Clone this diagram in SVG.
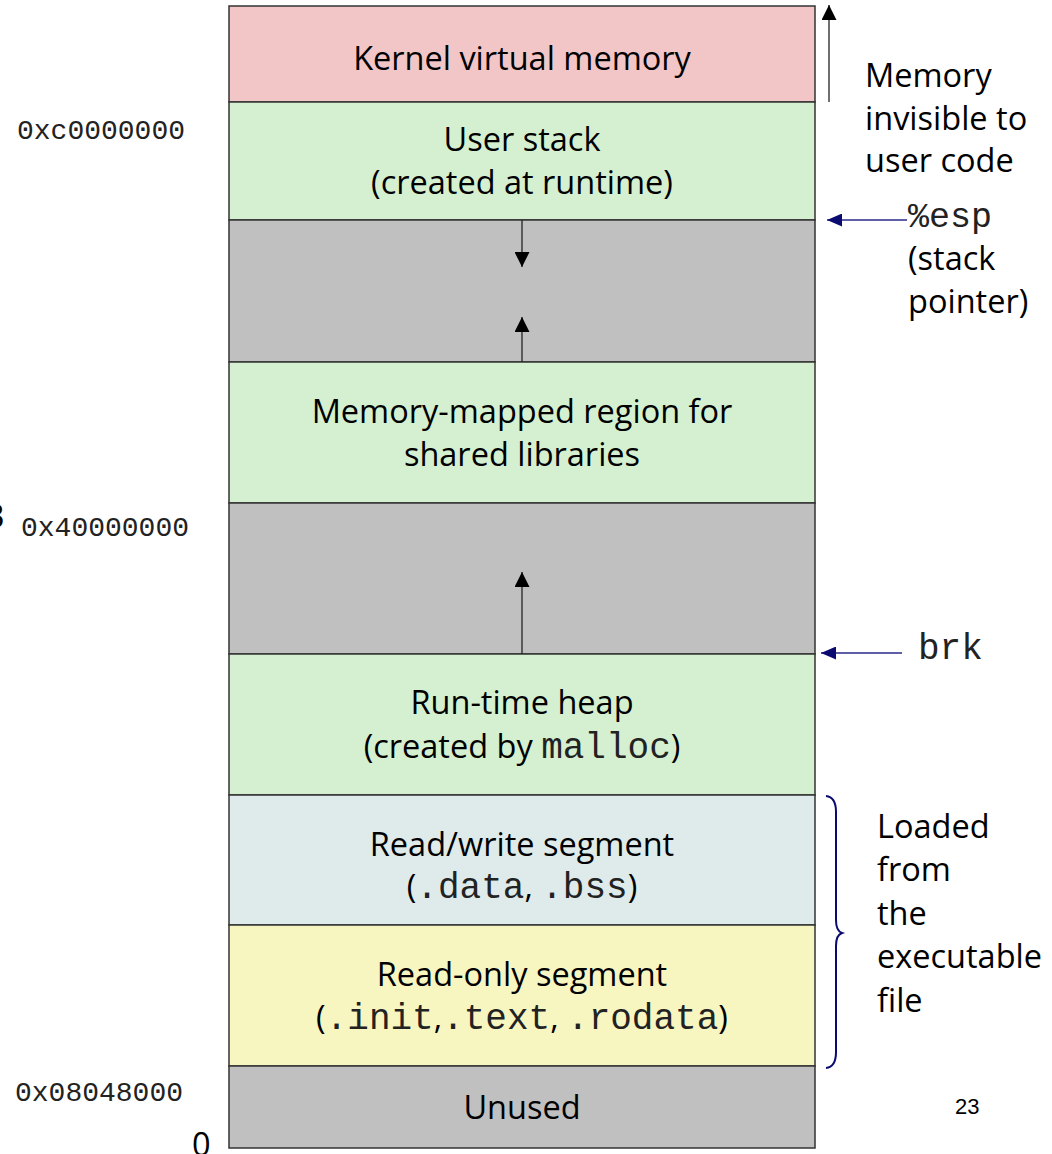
<svg xmlns="http://www.w3.org/2000/svg" width="1052" height="1154" viewBox="0 0 1052 1154">
<style>
.seg{stroke:#333;stroke-width:1.5}
.t{font-family:"Open Sans","Noto Sans",sans-serif;font-size:32.5px;fill:#000}
.c{text-anchor:middle}
.m{font-family:"Liberation Mono","Courier New",monospace;fill:#222}
.cm{font-size:36px}
.addr{font-family:"Liberation Mono","Courier New",monospace;font-size:28px;fill:#222}
.ln{stroke:#222;stroke-width:1.3;fill:none}
.nv{stroke:#2a2a8a;stroke-width:1.3;fill:none}
</style>
<defs>
<marker id="ah" viewBox="0 0 10 10" refX="10" refY="5" markerWidth="15" markerHeight="15" markerUnits="userSpaceOnUse" orient="auto"><path d="M0,0 L10,5 L0,10 z" fill="#000"/></marker>
<marker id="an" viewBox="0 0 10 10" refX="10" refY="5" markerWidth="15" markerHeight="13" markerUnits="userSpaceOnUse" orient="auto" preserveAspectRatio="none"><path d="M0,0 L10,5 L0,10 z" fill="#0a0a70"/></marker>
</defs>
<rect width="1052" height="1154" fill="#fff"/>
<g id="kernel"><rect class="seg" x="229" y="6" width="586" height="96" fill="#F2C6C7"/><text class="t c" x="522" y="70">Kernel virtual memory</text></g>
<g id="user-stack"><rect class="seg" x="229" y="102" width="586" height="118" fill="#D5F0D0"/><text class="t c" x="522" y="151">User stack</text><text class="t c" x="522" y="194">(created at runtime)</text></g>
<g id="gap1"><rect class="seg" x="229" y="220" width="586" height="142" fill="#C0C0C0"/></g>
<g id="mmap"><rect class="seg" x="229" y="362" width="586" height="141" fill="#D5F0D0"/><text class="t c" x="522" y="423">Memory-mapped region for</text><text class="t c" x="522" y="466">shared libraries</text></g>
<g id="gap2"><rect class="seg" x="229" y="503" width="586" height="151" fill="#C0C0C0"/></g>
<g id="heap"><rect class="seg" x="229" y="654" width="586" height="141" fill="#D5F0D0"/><text class="t c" x="522" y="714">Run-time heap</text><text class="t c" x="522" y="758">(created by <tspan class="m cm">malloc</tspan>)</text></g>
<g id="rw"><rect class="seg" x="229" y="795" width="586" height="130" fill="#DFEBEB"/><text class="t c" x="522" y="856">Read/write segment</text><text class="t c" x="522" y="898">(<tspan class="m cm">.data</tspan>, <tspan class="m cm">.bss</tspan>)</text></g>
<g id="ro"><rect class="seg" x="229" y="925" width="586" height="141" fill="#F7F5C0"/><text class="t c" x="522" y="986">Read-only segment</text><text class="t c" x="522" y="1029">(<tspan class="m cm">.init</tspan>,<tspan class="m cm">.text</tspan>, <tspan class="m cm">.rodata</tspan>)</text></g>
<g id="unused"><rect class="seg" x="229" y="1066" width="586" height="82" fill="#C0C0C0"/><text class="t c" x="522" y="1119">Unused</text></g>
<g id="connectors">
<line class="ln" x1="522" y1="220" x2="522" y2="267" marker-end="url(#ah)"/>
<line class="ln" x1="522" y1="362" x2="522" y2="317" marker-end="url(#ah)"/>
<line class="ln" x1="522" y1="654" x2="522" y2="572" marker-end="url(#ah)"/>
<line class="ln" x1="829" y1="102" x2="829" y2="5" marker-end="url(#ah)"/>
<line class="nv" x1="907" y1="220" x2="827" y2="220" marker-end="url(#an)"/>
<line class="nv" x1="902" y1="653" x2="821" y2="653" marker-end="url(#an)"/>
<path d="M826,796 Q836,797 836,812 L836,920 Q836,931 842,933 Q836,935 836,946 L836,1052 Q836,1067 826,1068" stroke="#0a0a70" stroke-width="2" fill="none"/>
</g>
<g id="labels">
<text class="t" x="865" y="87">Memory</text>
<text class="t" x="865" y="130">invisible to</text>
<text class="t" x="865" y="172">user code</text>
<text class="m" x="908" y="227" font-size="35">%esp</text>
<text class="t" x="908" y="270">(stack</text>
<text class="t" x="908" y="313">pointer)</text>
<text class="m" x="918" y="659" font-size="36">brk</text>
<text class="t" x="877" y="838">Loaded</text>
<text class="t" x="877" y="881">from</text>
<text class="t" x="877" y="925">the</text>
<text class="t" x="877" y="968">executable</text>
<text class="t" x="877" y="1012">file</text>
<text class="addr" x="17" y="139">0xc0000000</text>
<text class="addr" x="21" y="536">0x40000000</text>
<text class="addr" x="15" y="1101">0x08048000</text>
<text class="t" x="-14" y="528">3</text>
<text class="t" x="192" y="1156">0</text>
<text x="955" y="1114" font-family="Liberation Sans,Arial,sans-serif" font-size="22" fill="#000">23</text>
</g>
</svg>
